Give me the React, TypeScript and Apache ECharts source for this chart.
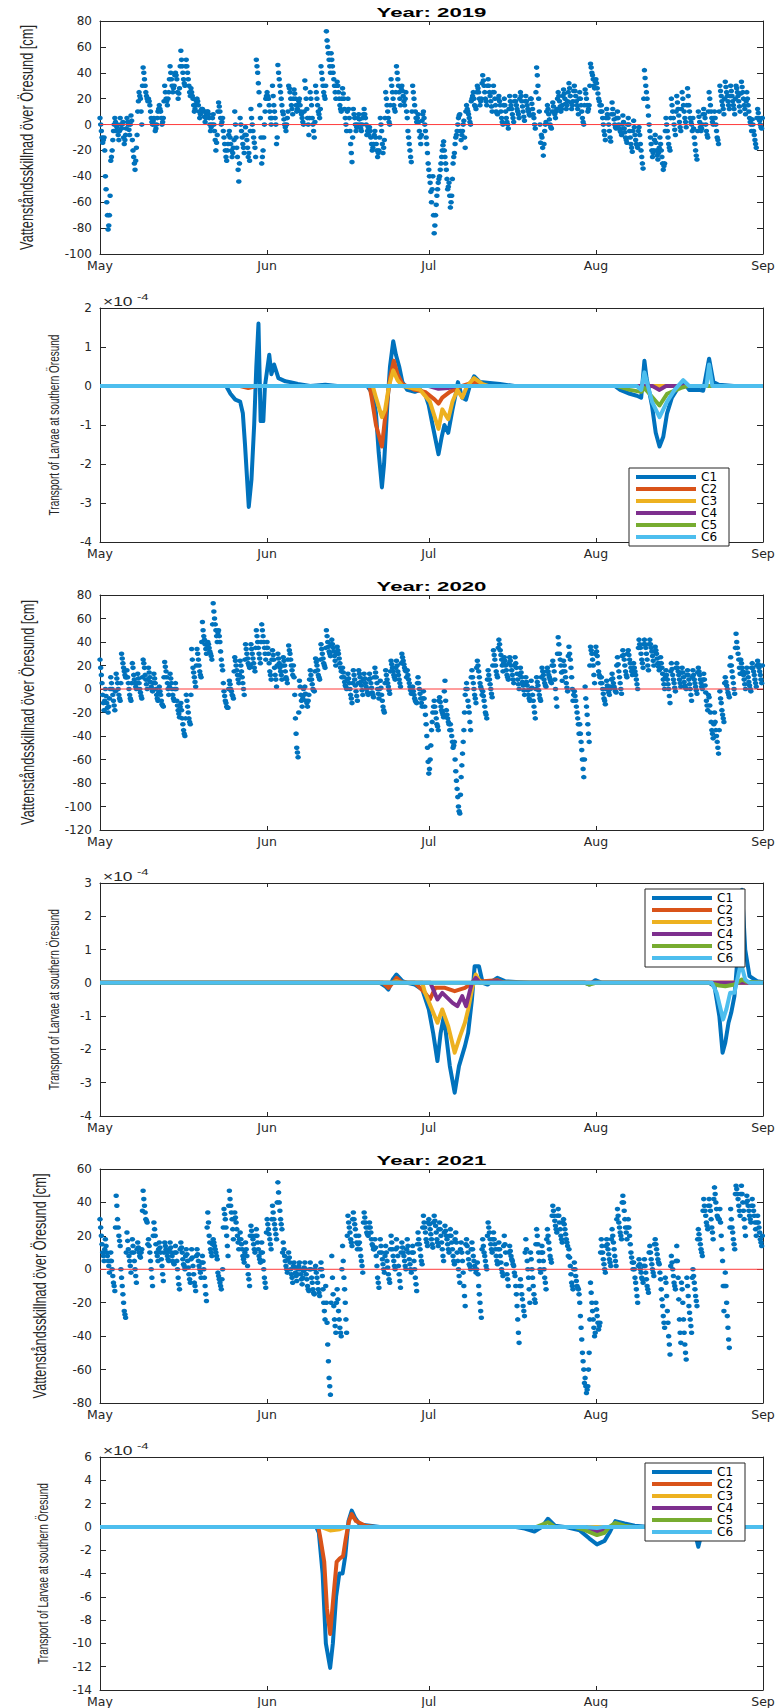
import React, { useEffect, useRef } from "react";
import * as echarts from "echarts";

// ---------- axes / labels ----------
const MONTH_TICKS = [0, 31, 61, 92, 123];
const MONTH_LABELS = ["May", "Jun", "Jul", "Aug", "Sep"];
const SAMPLES_PER_DAY = 4; // per set; set B is offset by 3 h
const SET_B_OFFSET = 0.125;
const YEARS = ["2019", "2020", "2021"];
const LEGEND_NAMES = ["C1", "C2", "C3", "C4", "C5", "C6"];
const CLASS_COLORS = ["#0072BD", "#D95319", "#EDB120", "#7E2F8E", "#77AC30", "#4DBEEE"];
const WL_NAME = "Vattenståndsskillnad över Öresund [cm]";
const TR_NAME = "Transport of Larvae at southern Öresund";

// y ranges: [min, max, interval]
const WL_RANGES = [[-100, 80, 20], [-120, 80, 20], [-80, 60, 20]];
const TR_RANGES = [[-4, 2, 1], [-4, 3, 1], [-14, 6, 2]];

// ---------- water level difference (cm), from 1 May; set A at 0,6,12,18 h ----------
const WL_2019_A = [
  5,-5,-14,-10, -40,-60,-81,-70, -28,-20,-5,5, -5,0,-12,5, -3,2,-15,-8, 5,0,-8,7, -12,-25,-35,-18,
  10,25,20,0, 44,35,25,20, 20,15,5,0, 5,-5,0,10, 15,10,0,5, 30,20,15,25, 45,35,25,30,
  40,35,20,28, 57,45,35,30, 50,40,30,22, 25,20,10,15, 20,15,5,10, 12,10,2,8, 10,5,-5,0,
  8,-5,-20,-8, 17,10,0,5, -10,-20,-28,-15, -5,-15,-25,-18, 10,-10,-25,-44, 5,-5,-15,-22, -2,-12,-25,-28,
  12,0,-10,-18, 50,40,25,5, -30,-20,0,20, 25,20,10,0, 30,15,5,-15, 46,35,25,15, 8,0,-5,5,
  30,25,15,8, 27,20,10,15, 20,10,5,0, 34,20,5,-8, 25,15,0,-10, 30,20,10,5, 45,35,25,20,
  72,60,50,40, 50,40,30,20, 33,25,15,10, 28,20,5,-5, 20,5,-15,-29, 12,5,-5,0, 8,0,-5,5,
  12,5,-8,-2, -2,-10,-20,-15, -5,-15,-25,-20, 5,-5,-22,-12, 25,15,5,0, 35,25,15,10, 45,35,25,15,
  30,22,15,25, 5,-10,-20,-29, 30,20,10,2, 8,-5,-15,3, 10,0,-10,-22, -35,-45,-60,-40, -84,-70,-55,-45,
  -40,-30,-20,-13, -25,-35,-50,-45, -64,-55,-30,-22, -10,-5,5,8, -12,-5,3,-18, 15,10,5,0, 20,25,15,12,
  30,25,15,20, 38,30,20,15, 35,25,18,10, 30,20,10,8, 22,15,5,0, 20,10,2,-3, 22,15,8,2,
  22,15,10,5, 25,18,10,3, 22,15,10,7, 20,12,5,-3, 44,30,10,-14, -10,-24,-5,2, 15,8,0,-3,
  17,10,5,12, 25,18,10,15, 27,20,12,18, 32,22,12,18, 30,22,15,8, 25,15,5,0, 27,20,10,15,
  47,40,35,28, 35,28,20,15, 15,5,-5,-12, 12,5,-5,-13, 17,8,0,-3, 10,0,-5,-8, 7,-3,-10,-14,
  5,-5,-15,-21, 3,-8,-15,-18, -2,-15,-25,-34, 42,30,20,7, -5,-15,-25,-20, -8,-20,-27,-18, -15,-25,-35,-30,
  5,-5,-15,-20, 20,10,0,-8, 22,12,2,-5, 25,15,5,-2, 28,15,5,0, 5,-10,-20,-27, 10,2,-5,0,
  12,5,-5,-10, 25,15,5,0, 10,0,-10,-15, 30,22,15,8, 33,25,18,12, 30,22,15,8, 30,25,18,10,
  33,25,15,8, 25,15,5,0, 4,-5,-12,-18, 12,5,0,-3,
];
// set B at 3,9,15,21 h
const WL_2019_B = [
  0,-10,-12,-20, -50,-70,-78,-55, -25,-12,0,2, -2,-8,-5,0, 0,-10,-12,-3, 2,-4,0,3, -20,-30,-28,-8,
  18,22,10,30, 40,30,22,18, 18,10,2,3, 0,-3,5,12, 12,5,2,18, 25,18,20,35, 40,30,28,38,
  38,25,24,45, 50,40,32,45, 45,35,25,28, 22,15,12,18, 18,10,8,12, 11,6,5,10, 8,0,-2,5,
  0,-12,-14,10, 14,5,2,-5, -15,-25,-20,-8, -10,-20,-22,-12, 0,-18,-35,-30, 0,-10,-18,-8, -8,-18,-22,-5,
  5,-5,-14,-25, 45,32,15,-10, -25,-10,10,22, 22,15,5,5, 22,10,0,-10, 40,30,20,10, 4,-2,0,10,
  28,20,12,20, 24,15,12,18, 15,8,2,10, 28,12,0,5, 20,5,-5,2, 25,15,8,12, 40,30,22,30,
  65,55,45,55, 45,35,25,30, 30,20,12,20, 24,12,0,10, 12,-5,-22,-10, 8,0,-2,5, 4,-3,0,8,
  8,0,-5,-8, -5,-15,-18,-8, -10,-20,-22,-10, 0,-15,-18,5, 20,10,2,15, 30,20,12,25, 40,30,20,28,
  26,18,20,10, -5,-15,-25,10, 25,15,5,5, 2,-10,-8,8, 5,-5,-15,-30, -40,-52,-50,-70, -78,-62,-50,-42,
  -35,-25,-16,-20, -30,-42,-48,-55, -60,-42,-25,-15, -8,0,7,-5, -8,0,-10,10, 12,8,2,18, 22,20,14,25,
  28,20,18,32, 34,25,18,30, 30,22,14,25, 25,15,9,20, 18,10,2,15, 15,5,0,12, 18,12,5,18,
  18,12,8,20, 22,14,6,18, 18,12,8,20, 16,8,0,25, 38,20,0,-8, -18,-15,0,10, 12,4,-2,10,
  14,8,10,20, 22,14,12,22, 24,16,15,25, 28,17,15,26, 26,18,12,20, 20,10,2,15, 24,15,12,30,
  44,38,30,33, 32,24,18,10, 10,0,-8,5, 8,0,-10,8, 12,4,-2,5, 5,-3,-6,0, 2,-6,-12,0,
  0,-10,-18,-5, -2,-12,-16,-5, -8,-20,-30,20, 36,25,14,0, -10,-20,-22,-12, -14,-24,-22,-10, -20,-30,-32,-5,
  0,-10,-18,5, 15,5,-4,10, 17,7,-2,12, 20,10,2,15, 22,10,2,-5, -3,-15,-24,-5, 6,-2,-3,8,
  8,0,-8,10, 20,10,2,5, 5,-5,-12,10, 26,18,12,20, 29,22,15,22, 26,18,12,20, 28,22,14,24,
  29,20,12,18, 20,10,2,-5, 0,-8,-15,5, 9,3,-2,5,
];

const WL_2020_A = [
  25,12,-5,-18, 0,-12,-20,-8, 10,0,-10,-18, 13,5,-5,-10, 30,22,15,10, 16,5,-5,-10, 22,12,5,0,
  13,5,-3,-8, 25,18,8,0, 18,10,2,-2, 13,5,-5,-10, 2,-5,-13,-15, 23,15,5,-5, 13,5,-5,-10,
  5,-10,-18,-24, -12,-25,-35,-40, -5,-15,-25,-30, 34,18,10,2, 34,25,15,10, 57,45,38,30, 40,35,30,25,
  73,60,50,40, 50,40,25,16, -2,-10,-15,-16, 7,0,-5,-8, 27,20,12,5, 24,15,5,-5, 38,30,22,18,
  38,30,22,15, 50,40,30,22, 55,45,35,25, 40,30,15,8, 33,25,12,2, 30,22,15,8, 27,20,10,5,
  37,30,20,12, 10,-25,-50,-58, 7,-5,-15,0, 2,-10,-15,-5, 16,8,0,-2, 26,20,12,8, 38,30,22,18,
  50,40,32,28, 42,35,28,20, 36,30,22,15, 18,10,3,0, 13,5,-5,-12, 16,8,-2,-10, 16,10,3,-5,
  13,5,0,-5, 13,5,-3,-7, 18,10,0,-8, 7,-5,-15,-20, 16,8,2,-4, 24,18,12,8, 24,15,8,2,
  30,24,18,15, 16,8,2,-4, 2,-5,-10,-12, 10,0,-8,-15, -2,-15,-30,-50, -72,-60,-35,-20, -10,-20,-30,-35,
  -7,-15,-20,-24, 7,-18,-25,-30, -30,-40,-50,-45, -70,-85,-100,-106, -75,-55,-35,-5, 5,-10,-20,-35, 16,5,-5,-12,
  24,15,5,0, -2,-10,-20,-25, 16,8,0,-7, 33,25,15,10, 42,33,25,15, 27,20,12,8, 27,20,12,5,
  27,18,8,0, 18,10,3,-5, 10,3,-5,-10, 7,-5,-15,-25, 10,3,-5,-10, 18,12,5,2, 18,12,8,5,
  24,15,0,-15, 44,30,20,7, 24,15,5,-2, 36,25,10,-10, -2,-10,-20,-30, -30,-45,-60,-75, 2,-15,-30,-45,
  36,30,20,5, 36,28,15,10, 10,0,-8,-13, 7,0,-5,2, 13,5,0,-3, 27,15,5,-4, 33,25,15,10,
  33,25,18,12, 22,15,8,0, 42,35,25,18, 42,35,25,16, 42,35,28,20, 36,30,22,16, 27,18,8,0,
  16,8,0,-12, 22,12,5,-2, 22,15,8,2, 18,10,3,0, 16,8,0,-10, 16,8,2,-4, 18,12,5,0,
  13,3,-10,-18, -7,-20,-35,-42, -20,-35,-45,-55, -2,-12,-22,-28, 10,3,-3,-7, 27,15,5,-4, 47,35,25,13,
  22,15,8,0, 18,10,3,-2, 22,15,8,2, 24,18,12,5,
];
const WL_2020_B = [
  18,5,-12,-10, -6,-16,-15,0, 5,-5,-14,-2, 9,0,-8,5, 26,18,12,10, 10,0,-8,5, 18,8,2,5,
  9,0,-6,10, 22,12,4,8, 14,6,0,5, 9,0,-8,-3, -2,-10,-14,10, 19,10,0,2, 9,0,-8,0,
  0,-14,-21,-15, -18,-30,-38,-25, -10,-20,-28,-5, 25,14,6,20, 30,20,12,40, 50,42,34,35, 38,32,28,55,
  66,55,45,48, 45,32,20,5, -6,-12,-16,0, 4,-2,-6,15, 24,16,8,12, 20,10,0,25, 34,26,20,20,
  34,26,18,35, 45,35,26,40, 50,40,30,35, 35,22,12,25, 29,18,8,20, 26,18,12,20, 24,15,8,25,
  33,25,16,20, -5,-38,-54,-20, 2,-10,-8,-5, -4,-12,-10,8, 12,4,-1,15, 23,16,10,25, 34,26,20,35,
  45,36,30,38, 38,32,24,30, 33,26,18,10, 14,6,2,8, 9,0,-8,5, 12,3,-6,5, 13,6,-1,8,
  9,2,-3,8, 9,1,-5,10, 14,5,-4,0, 1,-10,-18,5, 12,5,-1,15, 21,15,10,18, 20,12,5,22,
  27,21,16,10, 12,5,-1,0, -2,-8,-11,5, 5,-4,-12,-8, -8,-22,-40,-62, -68,-48,-28,-15, -15,-25,-32,-10,
  -11,-18,-22,-2, -10,-22,-28,-35, -35,-45,-48,-60, -78,-92,-104,-90, -65,-45,-20,0, 0,-15,-28,10, 10,0,-8,18,
  20,10,2,-5, -6,-15,-22,8, 12,4,-4,20, 29,20,12,35, 38,29,20,22, 24,16,10,22, 24,16,8,20,
  22,13,4,12, 14,6,-1,5, 6,-1,-8,0, 1,-10,-20,0, 6,-1,-8,10, 15,8,3,15, 15,10,6,20,
  20,8,-8,30, 38,25,14,15, 20,10,1,28, 30,18,0,-5, -6,-15,-25,-38, -38,-52,-68,-60, -8,-22,-38,20,
  33,25,12,30, 32,22,12,5, 5,-4,-10,0, 3,-3,0,8, 9,2,-2,20, 21,10,0,28, 29,20,12,30,
  29,22,15,18, 18,12,4,35, 38,30,22,38, 38,30,20,38, 38,32,24,32, 33,26,19,22, 22,13,4,10,
  12,4,-6,15, 17,8,1,18, 18,12,5,14, 14,6,1,12, 12,4,-5,10, 12,5,-1,14, 15,8,2,8,
  8,-3,-14,-5, -14,-28,-38,-30, -28,-40,-50,-35, -8,-18,-25,5, 6,0,-5,20, 20,10,0,35, 40,30,18,25,
  18,12,4,14, 14,6,0,18, 18,12,5,20, 21,15,8,20,
];

const WL_2021_A = [
  30,20,10,5, 18,10,5,-2, 10,0,-8,-13, 44,30,20,14, -5,-15,-25,-29, 22,12,5,-2, 18,10,0,-8,
  16,10,7,12, 47,38,30,28, 18,10,0,-10, 28,20,10,5, 16,10,2,-7, 16,12,8,5, 16,10,5,3,
  14,5,-5,-12, 16,10,3,0, 12,5,-3,-8, 12,2,-8,-13, 12,5,0,-5, 8,0,-10,-19, 34,20,12,8,
  18,14,10,6, -4,-8,-12,0, 36,30,20,8, 47,38,30,18, 34,28,20,12, 22,15,8,4, 16,8,-3,-10,
  26,20,15,10, 24,16,8,4, 16,5,-5,-11, 30,24,18,12, 38,30,24,18, 52,40,30,24, 16,8,2,-2,
  10,4,-3,-8, 4,-2,-7,0, 4,-3,-9,-1, 4,-3,-10,-13, 4,-5,-12,-15, 2,-5,-12,-16, 4,-4,-20,-30,
  -20,-45,-65,-75, 8,-15,-30,-38, -12,-25,-35,-40, 14,-5,-20,-38, 32,25,18,14, 34,27,20,12, 20,12,5,-2,
  34,28,22,20, 28,22,15,12, 18,8,-5,-11, 18,10,3,-2, 14,5,-3,-8, 20,12,5,0, 18,8,-3,-11,
  16,10,5,0, 18,10,3,-2, 14,5,-5,-13, 22,15,8,3, 32,25,18,14, 30,24,18,13, 32,26,18,14,
  28,20,12,5, 26,20,15,10, 24,16,8,3, 22,10,0,-8, 16,5,-10,-22, 18,10,3,0, 16,8,2,-2,
  4,-10,-20,-29, 18,10,5,0, 28,22,15,10, 22,15,8,3, 16,8,0,-4, 20,10,-3,-10, 14,8,5,2,
  -4,-15,-30,-44, -6,-15,-22,-28, 18,5,-5,-20, 6,-5,-15,-20, 24,15,5,-2, 14,5,-5,-12, 24,16,8,4,
  38,32,26,22, 36,28,20,16, 30,24,18,14, 12,2,-8,-12, 4,-4,-10,-12, -20,-35,-50,-60, -65,-74,-70,-50,
  -8,-20,-30,-40, -20,-28,-36,-32, 18,10,3,-2, 18,12,6,2, 24,16,8,2, 36,28,22,18, 44,35,25,18,
  30,20,10,4, 4,-5,-12,-20, 6,0,-5,-8, 6,-2,-10,-14, 14,6,0,-4, 18,12,6,3, -6,-18,-28,-35,
  -8,-25,-40,-51, 8,0,-8,-12, 14,-5,-30,-44, -12,-30,-45,-54, -10,-22,-30,-38, 0,-8,-16,-22, 24,18,12,8,
  42,35,28,24, 42,35,25,18, 49,40,32,30, 36,20,5,-25, -2,-20,-35,-47, 36,25,18,12, 50,45,38,32,
  50,40,30,20, 44,38,32,28, 42,35,28,20, 32,25,18,14,
];
const WL_2021_B = [
  25,15,8,12, 14,8,2,5, 5,-4,-10,25, 38,25,17,0, -10,-20,-27,10, 17,8,2,10, 14,5,-4,12,
  13,8,10,35, 42,34,29,15, 14,5,-5,20, 24,15,8,12, 13,6,-3,10, 14,10,6,12, 13,8,4,10,
  10,0,-9,12, 13,6,2,8, 9,1,-6,6, 7,-3,-10,8, 9,2,-2,4, 4,-5,-15,25, 28,16,10,15,
  16,12,8,-2, -6,-10,-6,25, 33,25,14,38, 42,34,24,30, 31,24,16,18, 18,12,6,10, 12,2,-6,20,
  23,18,12,20, 20,12,6,10, 10,0,-8,22, 27,21,15,30, 34,27,21,40, 46,35,27,10, 12,5,0,6,
  7,0,-5,2, 1,-4,-3,2, 0,-6,-5,1, 0,-6,-12,0, 0,-8,-14,0, -2,-8,-14,0, 0,-12,-25,-10,
  -32,-55,-70,-20, -5,-22,-34,-20, -18,-30,-38,0, 5,-12,-30,20, 28,22,16,30, 30,24,16,15, 16,8,2,28,
  31,25,21,25, 25,18,14,12, 13,2,-8,10, 14,6,0,8, 10,1,-6,12, 16,8,2,12, 13,2,-7,10,
  13,8,2,12, 14,6,0,10, 10,0,-9,15, 18,12,5,25, 28,22,16,28, 27,21,15,28, 29,22,16,24,
  24,16,8,22, 23,18,12,20, 20,12,5,18, 16,5,-4,12, 10,-2,-16,15, 14,6,2,12, 12,5,0,0,
  -3,-15,-25,12, 14,8,2,20, 25,18,12,18, 18,12,5,12, 12,4,-2,14, 15,3,-6,10, 11,6,3,-2,
  -10,-22,-38,-10, -10,-18,-25,10, 12,0,-12,10, 0,-10,-18,15, 20,10,0,10, 10,0,-8,18, 20,12,6,32,
  35,29,24,32, 32,24,18,28, 27,21,16,8, 7,-3,-10,0, 0,-7,-11,-15, -28,-42,-55,-68, -70,-72,-60,-30,
  -14,-25,-35,-38, -24,-32,-34,10, 14,6,0,14, 15,9,4,18, 20,12,5,30, 32,25,20,40, 40,30,22,25,
  25,15,7,0, 0,-8,-16,2, 3,-2,-6,2, 2,-6,-12,10, 10,3,-2,15, 15,9,4,-2, -12,-22,-32,-5,
  -16,-32,-45,2, 4,-4,-10,5, 5,-18,-38,-8, -20,-38,-50,-5, -16,-26,-34,-5, -4,-12,-19,18, 21,15,10,35,
  38,32,26,38, 38,30,22,42, 45,36,31,30, 28,12,-10,-10, -10,-28,-42,25, 30,22,15,45, 48,42,35,45,
  45,35,25,40, 41,35,30,38, 38,32,24,28, 28,22,16,20,
];

// ---------- larval transport (units of 1e-4), [day since 1 May, value] ----------
const TR2019_C1 = [[0,0],[23.4,0],[24.2,-0.2],[25.1,-0.35],[26,-0.4],[26.5,-0.7],[26.9,-1.5],[27.6,-3.1],[28.1,-2.4],[28.6,-1.0],[29.0,0.5],[29.4,1.6],[29.8,-0.9],[30.3,-0.9],[30.6,0],[31.4,0.8],[31.8,0.3],[32.3,0.55],[33.1,0.2],[34.4,0.12],[35.3,0.1],[36.7,0.05],[39,0],[41.8,0.03],[44,0],[49.6,0],[50.6,-0.2],[51.2,-0.7],[51.7,-1.7],[52.3,-2.6],[52.7,-2.0],[53.3,-0.5],[53.8,0.5],[54.4,1.15],[54.9,0.8],[55.5,0.5],[56.1,0.1],[57,-0.1],[58.4,-0.15],[59.4,-0.1],[60.3,-0.2],[61,-0.5],[61.7,-1.0],[62.8,-1.75],[63.4,-1.3],[63.9,-1.0],[64.6,-1.2],[65.4,-0.6],[66,-0.2],[66.4,0.1],[67.2,-0.3],[67.9,-0.35],[68.6,0],[69.4,0.25],[70.5,0.1],[72.3,0.08],[74.2,0.05],[76.9,0],[95.5,0],[96.5,-0.1],[98.3,-0.2],[99.6,-0.25],[100.4,-0.3],[101,0.65],[101.4,0.2],[102.4,-0.5],[103.1,-1.2],[103.8,-1.55],[104.5,-1.3],[105.2,-0.7],[106.1,-0.3],[107,-0.1],[108.2,0.12],[109.3,-0.1],[111.2,-0.1],[111.9,-0.12],[113,0.7],[113.8,0.1],[114.8,0.03],[117.6,0],[123,0]];
const TR2019_C2 = [[0,0],[26,0],[27.5,-0.05],[29,0],[50,0],[50.4,-0.3],[51.2,-1.0],[52.3,-1.55],[52.9,-0.8],[53.8,0.2],[54.5,0.65],[55.2,0.3],[56.1,0.05],[58.4,-0.1],[60.3,-0.15],[62.1,-0.35],[62.8,-0.45],[63.5,-0.3],[64.9,-0.15],[66.3,-0.05],[67.2,0],[69.4,0.1],[71.4,0],[123,0]];
const TR2019_C3 = [[0,0],[50.6,0],[51.2,-0.3],[52.3,-0.8],[52.9,-0.6],[53.6,0],[54.4,0.4],[55.2,0.15],[56.1,0],[59.4,-0.1],[61.2,-0.4],[62.8,-1.1],[63.5,-0.6],[64.6,-0.85],[65.4,-0.4],[66.3,-0.1],[67.2,-0.3],[68.1,0],[69.4,0.2],[71,0.05],[72,0],[123,0]];
const TR2019_C4 = [[0,0],[61,0],[62.8,-0.07],[64.6,-0.05],[66,0],[102.5,0],[103.8,-0.1],[105,0],[123,0]];
const TR2019_C5 = [[0,0],[96,0],[98.3,-0.1],[100.4,-0.15],[101,-0.05],[103.8,-0.5],[105.2,-0.2],[107.8,-0.05],[109,0],[123,0]];
const TR2019_C6 = [[0,0],[99.6,0],[100.4,-0.1],[101,0.35],[102.4,-0.4],[103.8,-0.8],[105.2,-0.4],[106.6,-0.1],[108.2,0.15],[109.3,0],[112.5,0],[113,0.55],[113.6,0],[123,0]];

const TR2020_C1 = [[0,0],[51.9,0],[52.9,-0.1],[53.5,-0.2],[54.3,0.1],[55,0.25],[56.1,0.05],[57,0],[58.4,-0.05],[59.8,-0.2],[61,-0.8],[61.8,-1.5],[62.6,-2.35],[63.2,-1.5],[63.8,-1.0],[64.9,-2.5],[65.8,-3.3],[66.6,-2.5],[67.7,-1.9],[68.3,-1.5],[69,-0.5],[69.5,0.5],[70.3,0.5],[71,0],[71.9,-0.05],[73.7,0.15],[75.1,0.05],[77.9,0.02],[79.7,0],[90,0],[90.8,-0.05],[91.9,0.08],[93.1,0],[113,0],[114,-0.1],[114.9,-1.0],[115.5,-2.1],[116,-1.8],[116.6,-1.2],[117.1,-0.9],[117.7,-0.4],[118.4,1.0],[119.1,2.8],[119.7,1.0],[120.5,0.2],[121.9,0.05],[123,0.02]];
const TR2020_C2 = [[0,0],[52.5,0],[53.5,-0.15],[54.3,0],[55,0.15],[56.1,0],[58.4,0],[60.3,-0.3],[61.2,-0.5],[62.2,-0.15],[64,-0.15],[65.8,-0.25],[67.7,-0.15],[69.1,0],[69.6,0.1],[71,0.05],[73.7,0.08],[75,0],[123,0]];
const TR2020_C3 = [[0,0],[54,0],[55,0.05],[56,0],[59.8,0],[60.3,-0.3],[62.6,-1.2],[63.5,-0.8],[64.6,-1.3],[65.8,-2.1],[66.8,-1.6],[67.7,-1.2],[68.3,-0.8],[69,-0.2],[69.7,0.25],[70.6,0],[123,0]];
const TR2020_C4 = [[0,0],[61.3,0],[62.6,-0.5],[63.5,-0.3],[65.4,-0.6],[66.3,-0.7],[67.2,-0.4],[67.9,-0.7],[69,0],[69.7,0.15],[70.5,0],[73.7,0.05],[75,0],[123,0]];
const TR2020_C5 = [[0,0],[90,0],[90.8,-0.05],[92,0],[113,0],[114.9,-0.08],[116,-0.1],[117.7,-0.05],[119.1,0.1],[120,0.03],[123,0]];
const TR2020_C6 = [[0,0],[113.5,0],[114.4,-0.3],[115.6,-1.1],[116.2,-0.8],[116.9,-0.3],[117.7,-0.3],[118.9,0.6],[119.7,0.1],[120.5,0],[123,0]];

const TR2021_C1 = [[0,0],[40.1,0],[40.6,-0.5],[41.3,-4],[41.9,-10],[42.7,-12.1],[43.2,-10],[43.8,-6],[44.4,-4],[45,-4],[45.5,-2.5],[46.1,0.5],[46.7,1.4],[47.3,0.8],[48.2,0.2],[50.1,0.1],[51.9,0],[76.9,0],[78.8,-0.15],[80.6,-0.4],[82,0],[83.1,0.7],[84.4,0.1],[86.2,0],[89,-0.3],[90.8,-1.0],[92.2,-1.5],[93.6,-1.2],[94.5,-0.5],[95.6,0.5],[97.3,0.3],[99.2,0.1],[101.9,0],[104,0],[106.1,-0.3],[107,-0.1],[108.9,-0.7],[109.8,-0.3],[110.3,-0.4],[111,-1.7],[111.7,-0.4],[113.1,0],[123,0]];
const TR2021_C2 = [[0,0],[40.5,0],[40.9,-1],[41.6,-3],[42.1,-7],[42.7,-9.2],[43.3,-6],[43.9,-3],[44.5,-2.7],[45.1,-2.5],[45.6,-1],[46.2,0.5],[46.7,1.1],[47.5,0.5],[49.2,0.1],[51,0],[123,0]];
const TR2021_C3 = [[0,0],[41,0],[42.7,-0.3],[44.5,-0.2],[45.6,0],[123,0]];
const TR2021_C4 = [[0,0],[90,0],[92.2,-0.4],[93.6,-0.2],[94.5,0],[123,0]];
const TR2021_C5 = [[0,0],[81,0],[83.1,0.4],[84.4,0],[88,0],[89.5,-0.2],[92.2,-0.7],[93.6,-0.5],[94.5,0],[95.6,0.35],[97.3,0.1],[99,0],[123,0]];
const TR2021_C6 = [[0,0],[90,0],[92.2,-0.1],[93.5,0],[105,0],[106.1,-0.3],[107,0],[108.9,-0.5],[110.3,-0.3],[111,-1.0],[111.7,-0.2],[112.5,0],[123,0]];

const WL_SERIES = [[WL_2019_A, WL_2019_B], [WL_2020_A, WL_2020_B], [WL_2021_A, WL_2021_B]];
const TR_SERIES = [
  [TR2019_C1, TR2019_C2, TR2019_C3, TR2019_C4, TR2019_C5, TR2019_C6],
  [TR2020_C1, TR2020_C2, TR2020_C3, TR2020_C4, TR2020_C5, TR2020_C6],
  [TR2021_C1, TR2021_C2, TR2021_C3, TR2021_C4, TR2021_C5, TR2021_C6],
];

// ---------- layout ----------
const W = 782;
const H = 1708;
const GRID_LEFT = 100;
const GRID_RIGHT = 763;
const GRIDS = [
  { top: 21, height: 233 },
  { top: 308, height: 234 },
  { top: 595, height: 235 },
  { top: 883, height: 233 },
  { top: 1169, height: 234 },
  { top: 1457, height: 233 },
];
const AXIS_COLOR = "#262626";
const TICK_FONT = "DejaVu Sans";
const NAME_FONT = "Liberation Sans";

function measure(text: string, font: string): number {
  const ctx = document.createElement("canvas").getContext("2d");
  if (!ctx) return text.length * 7;
  ctx.font = font;
  return ctx.measureText(text).width;
}

function buildOption() {
  const grids: any[] = [];
  const xAxes: any[] = [];
  const yAxes: any[] = [];
  const series: any[] = [];
  const graphics: any[] = [];
  const legends: any[] = [];

  const monthFmt = (v: number) => {
    const i = MONTH_TICKS.indexOf(Math.round(v));
    return i >= 0 ? MONTH_LABELS[i] : "";
  };

  GRIDS.forEach((g) => {
    grids.push({ left: GRID_LEFT, width: GRID_RIGHT - GRID_LEFT, top: g.top, height: g.height, containLabel: false });
  });
  GRIDS.forEach((g, i) => {
    xAxes.push({
      type: "value", gridIndex: i, min: 0, max: 123, position: "bottom",
      axisLine: { show: true, onZero: false, lineStyle: { color: AXIS_COLOR, width: 1 } },
      axisTick: { show: true, inside: true, length: 4, customValues: MONTH_TICKS, lineStyle: { color: AXIS_COLOR } },
      axisLabel: { show: true, customValues: MONTH_TICKS, formatter: monthFmt, color: AXIS_COLOR, fontSize: 12.5, fontFamily: TICK_FONT, margin: 5 },
      splitLine: { show: false },
    });
  });
  GRIDS.forEach((g, i) => {
    xAxes.push({
      type: "value", gridIndex: i, min: 0, max: 123, position: "top",
      axisLine: { show: true, onZero: false, lineStyle: { color: AXIS_COLOR, width: 1 } },
      axisTick: { show: true, inside: true, length: 4, customValues: MONTH_TICKS, lineStyle: { color: AXIS_COLOR } },
      axisLabel: { show: false },
      splitLine: { show: false },
    });
  });
  const ranges = [WL_RANGES[0], TR_RANGES[0], WL_RANGES[1], TR_RANGES[1], WL_RANGES[2], TR_RANGES[2]];
  ranges.forEach((r, i) => {
    yAxes.push({
      type: "value", gridIndex: i, min: r[0], max: r[1], interval: r[2], position: "left",
      axisLine: { show: true, onZero: false, lineStyle: { color: AXIS_COLOR, width: 1 } },
      axisTick: { show: true, inside: true, length: 6, lineStyle: { color: AXIS_COLOR } },
      axisLabel: { show: true, color: AXIS_COLOR, fontSize: 12, fontFamily: TICK_FONT, margin: 8 },
      splitLine: { show: false },
    });
  });
  ranges.forEach((r, i) => {
    yAxes.push({
      type: "value", gridIndex: i, min: r[0], max: r[1], interval: r[2], position: "right",
      axisLine: { show: true, onZero: false, lineStyle: { color: AXIS_COLOR, width: 1 } },
      axisTick: { show: true, inside: true, length: 6, lineStyle: { color: AXIS_COLOR } },
      axisLabel: { show: false },
      splitLine: { show: false },
    });
  });

  WL_SERIES.forEach((sets, k) => {
    const gi = k * 2;
    const data: number[][] = [];
    sets[0].forEach((v, j) => data.push([j / SAMPLES_PER_DAY, v]));
    sets[1].forEach((v, j) => data.push([j / SAMPLES_PER_DAY + SET_B_OFFSET, v]));
    series.push({
      type: "scatter", name: "wl" + YEARS[k], xAxisIndex: gi, yAxisIndex: gi,
      data, symbol: "circle", symbolSize: [5.5, 4.6],
      itemStyle: { color: "#0072BD", opacity: 1 },
      silent: true, z: 2,
    });
    series.push({
      type: "line", name: "zero" + YEARS[k], xAxisIndex: gi, yAxisIndex: gi,
      data: [[0, 0], [123, 0]], symbol: "none",
      lineStyle: { color: "#FF3B3B", width: 1 }, silent: true, z: 3,
    });
    const grid = GRIDS[gi];
    const tFont = `bold 12px "${NAME_FONT}"`;
    const tText = "Year: " + YEARS[k];
    graphics.push({
      type: "text", x: (GRID_LEFT + GRID_RIGHT) / 2, y: grid.top - 8,
      scaleX: 110 / measure(tText, tFont), scaleY: 1.05,
      style: { text: tText, font: tFont, fill: "#000", align: "center", verticalAlign: "middle", textAlign: "center", textVerticalAlign: "middle" },
    });
    const nameX = [27, 28, 40][k];
    const nFont = `14px "${NAME_FONT}"`;
    graphics.push({
      type: "text", x: nameX, y: grid.top + grid.height / 2, rotation: Math.PI / 2,
      scaleX: 225 / measure(WL_NAME, nFont), scaleY: 1.3,
      style: { text: WL_NAME, font: nFont, fill: AXIS_COLOR, align: "center", verticalAlign: "middle", textAlign: "center", textVerticalAlign: "middle" },
    });
  });

  const legendPos = [{ left: 629, top: 468 }, { left: 645, top: 889 }, { left: 645, top: 1463 }];
  TR_SERIES.forEach((cls, k) => {
    const gi = k * 2 + 1;
    cls.forEach((data, c) => {
      series.push({
        type: "line", name: LEGEND_NAMES[c], xAxisIndex: gi, yAxisIndex: gi,
        data, symbol: "none", showSymbol: false,
        lineStyle: { color: CLASS_COLORS[c], width: 4, join: "round" },
        itemStyle: { color: CLASS_COLORS[c] },
        silent: true, z: 2 + c,
      });
    });
    const grid = GRIDS[gi];
    const nameX = [54, 54, 43][k];
    const nFont = `11px "${NAME_FONT}"`;
    graphics.push({
      type: "text", x: nameX, y: grid.top + grid.height / 2, rotation: Math.PI / 2,
      scaleX: 181 / measure(TR_NAME, nFont), scaleY: 1.4,
      style: { text: TR_NAME, font: nFont, fill: AXIS_COLOR, align: "center", verticalAlign: "middle", textAlign: "center", textVerticalAlign: "middle" },
    });
    const eFont = `12px "${NAME_FONT}"`;
    graphics.push({
      type: "text", x: 103, y: grid.top - 6, scaleX: 1.45,
      style: { text: "×10", font: eFont, fill: AXIS_COLOR, align: "left", verticalAlign: "middle", textAlign: "left", textVerticalAlign: "middle" },
    });
    graphics.push({
      type: "text", x: 137, y: grid.top - 11, scaleX: 1.45,
      style: { text: "-4", font: `9px "${NAME_FONT}"`, fill: AXIS_COLOR, align: "left", verticalAlign: "middle", textAlign: "left", textVerticalAlign: "middle" },
    });
    legends.push({
      orient: "vertical", left: legendPos[k].left, top: legendPos[k].top,
      itemWidth: 60, itemHeight: 4, itemGap: 0, icon: "rect",
      padding: [3, 12, 3, 7],
      borderColor: AXIS_COLOR, borderWidth: 1, backgroundColor: "#ffffff", borderRadius: 0,
      textStyle: { fontSize: 12, lineHeight: 11, fontFamily: TICK_FONT, color: "#000" },
      data: LEGEND_NAMES, selectedMode: false, z: 20,
    });
  });

  return {
    animation: false,
    backgroundColor: "#ffffff",
    grid: grids,
    xAxis: xAxes,
    yAxis: yAxes,
    legend: legends,
    series,
    graphic: graphics,
  };
}

export default function App() {
  const ref = useRef<HTMLDivElement>(null);
  useEffect(() => {
    if (!ref.current) return;
    const chart = echarts.init(ref.current, undefined, { renderer: "svg" });
    chart.setOption(buildOption() as any);
    return () => chart.dispose();
  }, []);
  return (
    <div
      ref={ref}
      style={{ position: "absolute", left: 0, top: 0, width: W, height: H, background: "#fff" }}
    />
  );
}
